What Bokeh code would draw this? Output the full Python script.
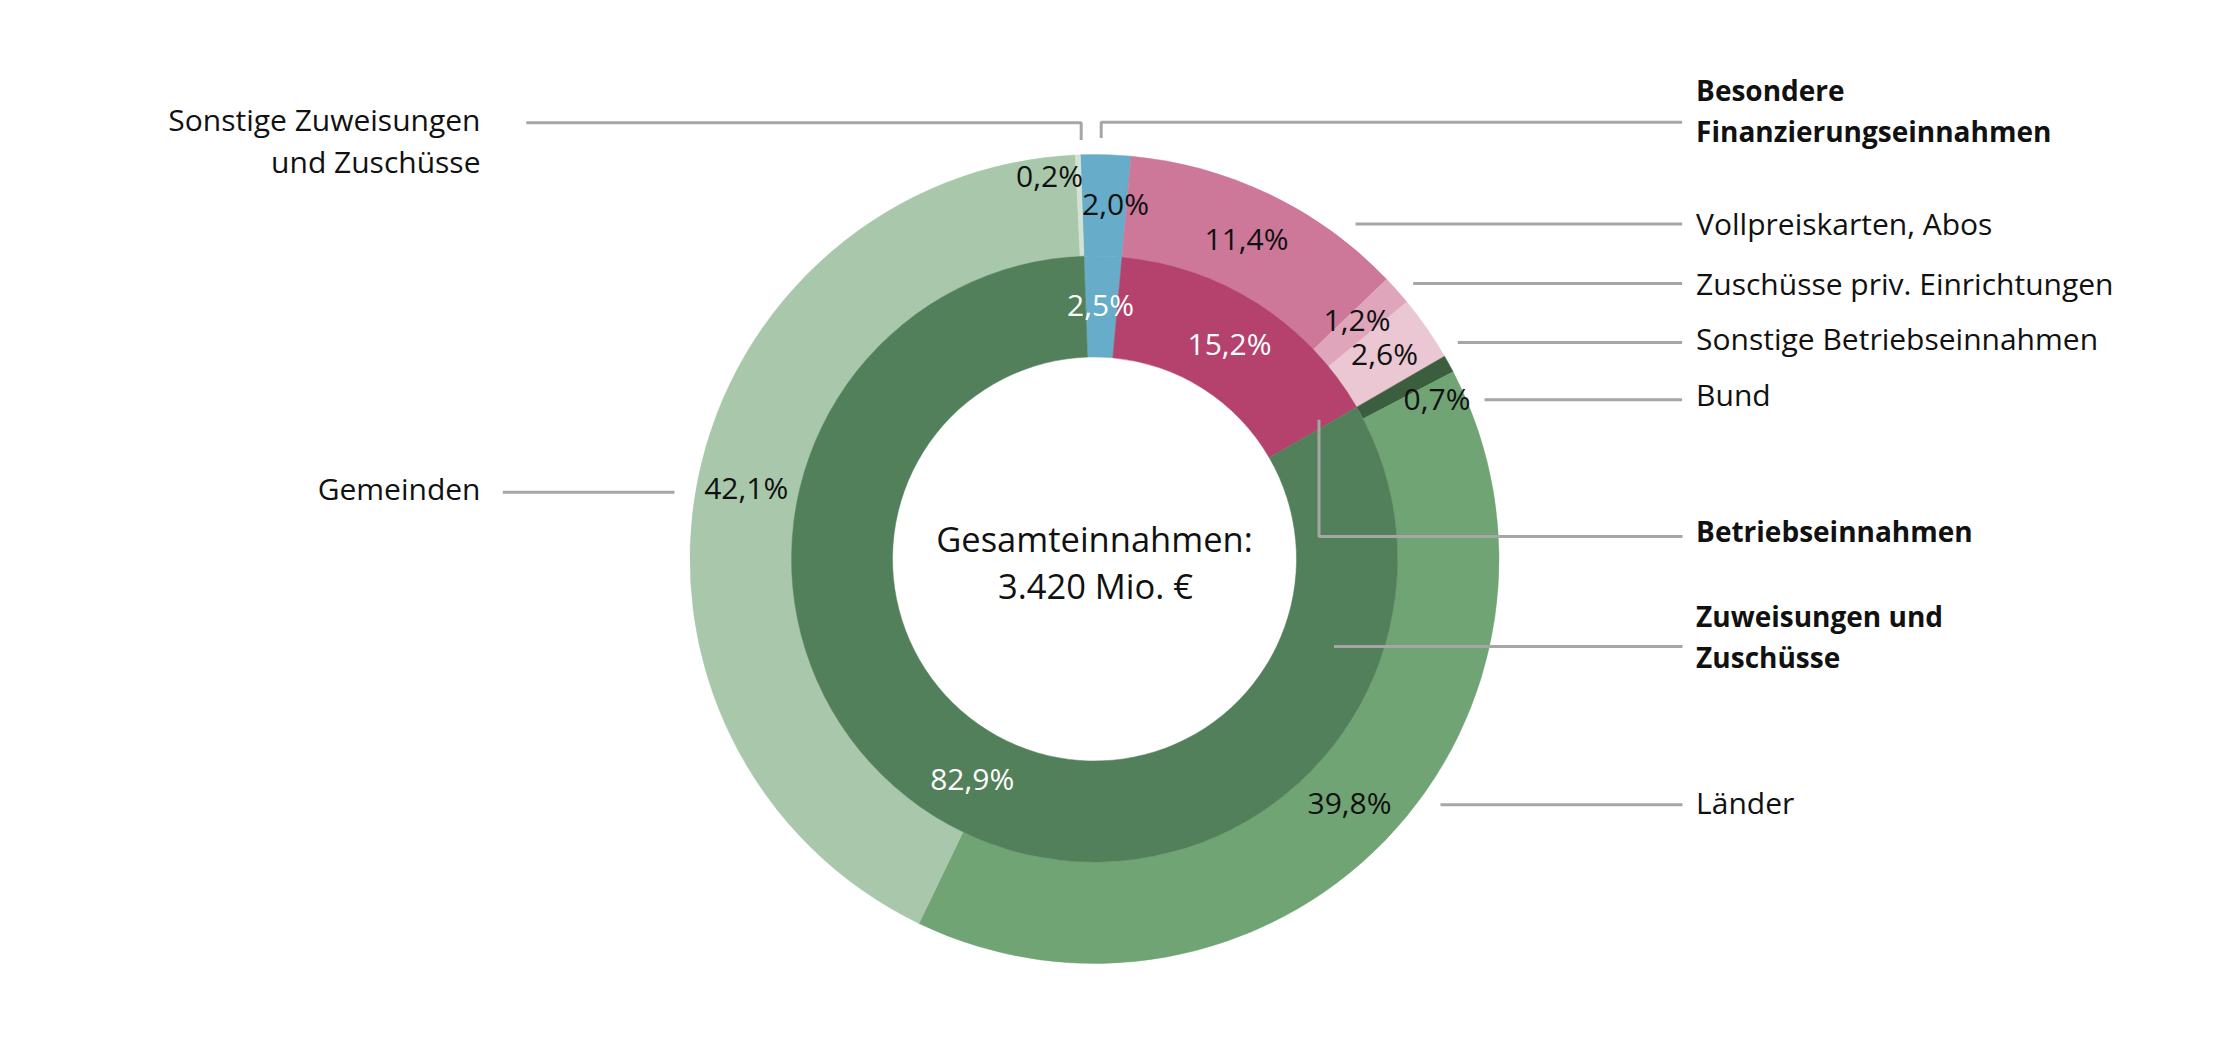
import numpy as np
from bokeh.plotting import figure
from bokeh.models import Range1d, ColumnDataSource
from bokeh.core.properties import value
from bokeh.embed import file_html
from bokeh.resources import INLINE

# ---------------- data ----------------
outer_categories = ["Besondere Finanzierungseinnahmen", "Vollpreiskarten, Abos",
                    "Zuschüsse priv. Einrichtungen", "Sonstige Betriebseinnahmen",
                    "Bund", "Länder", "Gemeinden", "Sonstige Zuweisungen und Zuschüsse"]
outer_values = [2.0, 11.4, 1.2, 2.6, 0.7, 39.8, 42.1, 0.2]
outer_group = [0, 1, 1, 1, 2, 2, 2, 2]
outer_colors = ["#67acc8", "#cd7899", "#dfa6bb", "#ebc7d4", "#3b5e3f", "#70a474", "#a9c8ab", "#d3e3d3"]

inner_categories = ["Besondere Finanzierungseinnahmen", "Betriebseinnahmen", "Zuweisungen und Zuschüsse"]
inner_labels = ["2,5%", "15,2%", "82,9%"]
inner_colors = ["#67acc8", "#b5426c", "#52805a"]
# inner ring drawn from the sum of its outer sub-categories
inner_values = [sum(v for v, g in zip(outer_values, outer_group) if g == i) for i in range(3)]

W, H = 2225, 1050
CX, CY = 1094, H - 558.5
R_HOLE, R_MID, R_OUT = 202, 303, 404.5
START_DEG = -2.0  # clockwise from 12 o'clock
TOFF = 12.5       # text baseline correction (px)


def angles(vals):
    tot = sum(vals)
    cum = np.concatenate([[0], np.cumsum(vals)]) / tot * 360.0 + START_DEG
    s = np.pi / 2 - np.radians(cum[:-1])
    e = np.pi / 2 - np.radians(cum[1:])
    return s, e


def ty(b):
    return H - b + TOFF


p = figure(width=W, height=H, output_backend="svg", toolbar_location=None,
           x_range=Range1d(0, W), y_range=Range1d(0, H), min_border=0)
p.axis.visible = False
p.grid.visible = False
p.outline_line_color = None
p.background_fill_color = "white"

os_, oe = angles(outer_values)
p.annular_wedge(x=CX, y=CY, inner_radius=R_MID, outer_radius=R_OUT,
                source=ColumnDataSource(dict(s=os_, e=oe, c=outer_colors)),
                start_angle="s", end_angle="e", direction="clock",
                fill_color="c", line_color="c", line_width=0.5)
is_, ie = angles(inner_values)
p.annular_wedge(x=CX, y=CY, inner_radius=R_HOLE, outer_radius=R_MID,
                source=ColumnDataSource(dict(s=is_, e=ie, c=inner_colors)),
                start_angle="s", end_angle="e", direction="clock",
                fill_color="c", line_color="c", line_width=0.5)

# ---------------- leader lines ----------------
LC = "#a6a6a6"
leaders = [
    ([525.8, 1080.7, 1080.7], [122.3, 122.3, 139.5]),
    ([1100.7, 1100.7, 1681.6], [137.5, 121.7, 121.7]),
    ([1355, 1681.6], [223.5, 223.5]),
    ([1412.7, 1681.6], [283, 283]),
    ([1457.3, 1681.6], [342, 342]),
    ([1484, 1681.6], [399.3, 399.3]),
    ([1318.5, 1318.5, 1682], [419.3, 536, 536]),
    ([1333.5, 1682], [646, 646]),
    ([1440, 1682], [804.3, 804.3]),
    ([502.3, 674], [491.7, 491.7]),
]
for xs, ys in leaders:
    p.line(xs, [H - y for y in ys], line_color=LC, line_width=3)

FONT = value("Open Sans")

# ---------------- percentage labels ----------------
pct_outer = ["2,0%", "11,4%", "1,2%", "2,6%", "0,7%", "39,8%", "42,1%", "0,2%"]
pct_outer_pos = [(1115, 215), (1246, 250), (1356.5, 331.7), (1384, 365.7),
                 (1436.5, 410), (1349, 814.3), (745.7, 499.3), (1049, 187)]
p.text(x=[q[0] for q in pct_outer_pos], y=[ty(q[1]) for q in pct_outer_pos], text=pct_outer,
       text_font=FONT, text_font_size="30px", text_color="#111111",
       text_align="center", text_baseline="alphabetic")
pct_inner_pos = [(1100, 316.7), (1229, 355), (971.7, 790.7)]
p.text(x=[q[0] for q in pct_inner_pos], y=[ty(q[1]) for q in pct_inner_pos], text=inner_labels,
       text_font=FONT, text_font_size="30px", text_color="#ffffff",
       text_align="center", text_baseline="alphabetic")

# ---------------- center text ----------------
p.text(x=[1094, 1095], y=[ty(550.7), ty(597.3)], text=["Gesamteinnahmen:", "3.420 Mio. €"],
       text_font=FONT, text_font_size="34.5px", text_color="#111111",
       text_align="center", text_baseline="alphabetic")

# ---------------- category labels ----------------
RX = 1695.6
right_normal = [("Vollpreiskarten, Abos", 235.7), ("Zuschüsse priv. Einrichtungen", 295),
                ("Sonstige Betriebseinnahmen", 350.7), ("Bund", 406.7), ("Länder", 814.3)]
p.text(x=[RX] * len(right_normal), y=[ty(b) for _, b in right_normal], text=[t for t, _ in right_normal],
       text_font=FONT, text_font_size="30px", text_color="#111111",
       text_align="left", text_baseline="alphabetic")
right_bold = [("Besondere", 101.7), ("Finanzierungseinnahmen", 143.3), ("Betriebseinnahmen", 542.7),
              ("Zuweisungen und", 627.7), ("Zuschüsse", 669.3)]
p.text(x=[RX] * len(right_bold), y=[ty(b) for _, b in right_bold], text=[t for t, _ in right_bold],
       text_font=FONT, text_font_size="28px", text_font_style="bold", text_color="#111111",
       text_align="left", text_baseline="alphabetic")
left = [("Sonstige Zuweisungen", 131.7), ("und Zuschüsse", 173.3), ("Gemeinden", 500)]
p.text(x=[480] * len(left), y=[ty(b) for _, b in left], text=[t for t, _ in left],
       text_font=FONT, text_font_size="30px", text_color="#111111",
       text_align="right", text_baseline="alphabetic")

open("out.html", "w").write(file_html(p, INLINE))
